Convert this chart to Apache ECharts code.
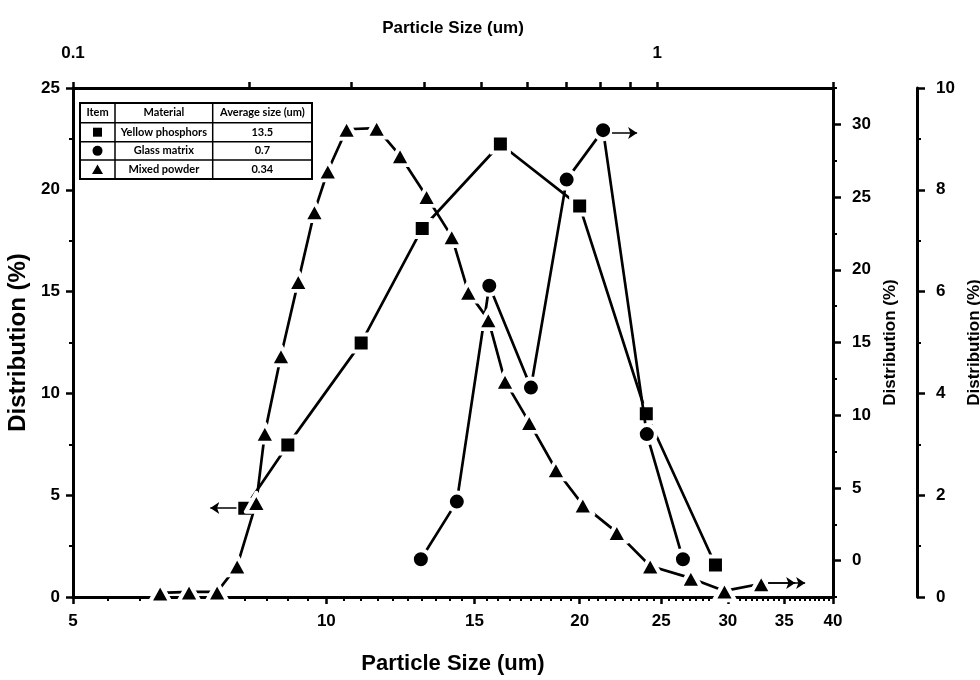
<!DOCTYPE html>
<html><head><meta charset="utf-8">
<script src="https://cdn.jsdelivr.net/npm/echarts@6/dist/echarts.min.js"></script>
<style>html,body{margin:0;padding:0;background:#fff}#c{width:980px;height:680px}</style>
</head><body><div id="c"></div>
<script>
// ---- Data ----
// Yellow phosphors: bottom log axis (um), left axis (%)
const phosphorSize = [8.0, 9.0, 11.0, 13.0, 16.1, 20.0, 24.0, 29.0];
const phosphorDist = [4.36, 7.47, 12.48, 18.1, 22.25, 19.2, 9.0, 1.57];
// Glass matrix: top log axis (um), right axis 1 (%)
const glassSize = [0.394, 0.454, 0.516, 0.608, 0.700, 0.808, 0.960, 1.107];
const glassDist = [0.1, 4.06, 18.9, 11.9, 26.2, 29.6, 8.7, 0.1];
// Mixed powder: top log axis (um), right axis 2 (%)
const mixedSize = [0.141, 0.158, 0.1765, 0.191, 0.206, 0.213, 0.227, 0.243, 0.259, 0.273, 0.294, 0.331, 0.363, 0.403, 0.445, 0.475, 0.514, 0.549, 0.604, 0.671, 0.746, 0.853, 0.973, 1.142, 1.304, 1.507];
const mixedDist = [0.08, 0.10, 0.10, 0.61, 1.86, 3.22, 4.74, 6.20, 7.57, 8.37, 9.19, 9.21, 8.67, 7.87, 7.08, 5.99, 5.45, 4.24, 3.43, 2.50, 1.81, 1.27, 0.61, 0.37, 0.12, 0.26];

// Tick labels
const bottomTicks = [5, 10, 15, 20, 25, 30, 35, 40];
const topTicks = [0.1, 0.2, 0.3, 0.4, 0.5, 0.6, 0.7, 0.8, 0.9, 1, 2];
const topLabels = [0.1, 1];
const right1Ticks = [0, 5, 10, 15, 20, 25, 30];
const right1Minor = [-2.5, 2.5, 7.5, 12.5, 17.5, 22.5, 27.5, 32.5];
const bottomMinor = [];
for (let v = 5.5; v < 40; v += 0.5) { if (v % 5 !== 0) bottomMinor.push(v); }

// Legend table
const tableHeader = ['Item', 'Material', 'Average size (um)'];
const materialNames = ['Yellow phosphors', 'Glass matrix', 'Mixed powder'];
const averageSizes = ['13.5', '0.7', '0.34'];

// ---- Chart ----
const NARROW = "'Liberation Sans Narrow','Arial Narrow','Liberation Sans',sans-serif";
const SANS = "'Liberation Sans',Arial,sans-serif";
const BLACK = '#000';
const lbl = (extra) => Object.assign({color: BLACK, fontSize: 17, fontWeight: 'bold', fontFamily: NARROW}, extra);
const line3 = {show: true, onZero: false, lineStyle: {color: BLACK, width: 3}};
const zip = (a, b) => a.map((v, i) => [v, b[i]]);

const chart = echarts.init(document.getElementById('c'), null, {renderer: 'canvas'});

function arrowLine(from, to) {
  return [{coord: from}, {coord: to}];
}
const markLineBase = {
  silent: true, animation: false, symbol: ['none', 'arrow'], symbolSize: 9,
  label: {show: false}, emphasis: {disabled: true},
  lineStyle: {color: BLACK, width: 1.5, type: 'solid'}
};

// Table graphic
const tx = [80, 115, 212.7, 312];
const ty = [103, 122.7, 141.7, 160, 179];
const tableEls = [];
tableEls.push({type: 'rect', shape: {x: tx[0], y: ty[0], width: tx[3] - tx[0], height: ty[4] - ty[0]}, style: {fill: '#fff', stroke: BLACK, lineWidth: 2}});
for (let i = 1; i < 4; i++) tableEls.push({type: 'line', shape: {x1: tx[0], y1: ty[i], x2: tx[3], y2: ty[i]}, style: {stroke: BLACK, lineWidth: 1.5}});
for (let i = 1; i < 3; i++) tableEls.push({type: 'line', shape: {x1: tx[i], y1: ty[0], x2: tx[i], y2: ty[4]}, style: {stroke: BLACK, lineWidth: 1.5}});
const tfont = {fontSize: 11, fontWeight: 'bold', fontFamily: "Lato,'Open Sans',sans-serif", fill: BLACK, align: 'center', verticalAlign: 'middle'};
const cx = [(tx[0] + tx[1]) / 2, (tx[1] + tx[2]) / 2, (tx[2] + tx[3]) / 2];
const cy = [(ty[0] + ty[1]) / 2, (ty[1] + ty[2]) / 2, (ty[2] + ty[3]) / 2, (ty[3] + ty[4]) / 2];
tableHeader.forEach((t, i) => tableEls.push({type: 'text', style: Object.assign({text: t, x: cx[i], y: cy[0]}, tfont)}));
materialNames.forEach((t, i) => tableEls.push({type: 'text', style: Object.assign({text: t, x: cx[1], y: cy[i + 1]}, tfont)}));
averageSizes.forEach((t, i) => tableEls.push({type: 'text', style: Object.assign({text: t, x: cx[2], y: cy[i + 1]}, tfont)}));
tableEls.push({type: 'rect', shape: {x: cx[0] - 4.5, y: cy[1] - 4.5, width: 9, height: 9}, style: {fill: BLACK}});
tableEls.push({type: 'circle', shape: {cx: cx[0], cy: cy[2], r: 5}, style: {fill: BLACK}});
tableEls.push({type: 'polygon', shape: {points: [[cx[0], cy[3] - 5], [cx[0] + 5.5, cy[3] + 4.5], [cx[0] - 5.5, cy[3] + 4.5]]}, style: {fill: BLACK}});
tableEls.forEach(el => { el.z = 100; });

const option = {
  animation: false,
  backgroundColor: '#fff',
  grid: {left: 73, right: 147, top: 88, bottom: 83, containLabel: false, outerBoundsMode: 'none'},
  xAxis: [
    { // bottom
      type: 'log', logBase: 10, min: 5, max: 40, position: 'bottom',
      axisLine: line3,
      axisTick: {show: true, customValues: bottomTicks, length: 7, lineStyle: {color: BLACK, width: 2.5}},
      axisLabel: lbl({customValues: bottomTicks, formatter: v => String(v), margin: 16}),
      splitLine: {show: false},
      name: 'Particle Size (um)', nameLocation: 'middle', nameGap: 56,
      nameTextStyle: {color: BLACK, fontSize: 22, fontWeight: 'bold', fontFamily: SANS}
    },
    { // top
      type: 'log', logBase: 10, min: 0.1, max: 2, position: 'top',
      axisLine: line3,
      axisTick: {show: true, customValues: topTicks, length: 6, lineStyle: {color: BLACK, width: 2.5}},
      axisLabel: lbl({customValues: topLabels, formatter: v => String(v), margin: 26}),
      splitLine: {show: false},
      name: 'Particle Size (um)', nameLocation: 'middle', nameGap: 51,
      nameTextStyle: {color: BLACK, fontSize: 17, fontWeight: 'bold', fontFamily: NARROW}
    },
    { // bottom minor ticks
      type: 'log', logBase: 10, min: 5, max: 40, position: 'bottom',
      axisLine: {show: false},
      axisTick: {show: true, customValues: bottomMinor, length: 4, lineStyle: {color: BLACK, width: 2}},
      axisLabel: {show: false}, splitLine: {show: false}
    }
  ],
  yAxis: [
    { // left
      type: 'value', min: 0, max: 25, interval: 5, position: 'left',
      axisLine: line3,
      axisTick: {show: true, length: 7, lineStyle: {color: BLACK, width: 2.5}},
      minorTick: {show: true, splitNumber: 2, length: 4, lineStyle: {color: BLACK, width: 2}},
      axisLabel: lbl({margin: 13}),
      splitLine: {show: false}, minorSplitLine: {show: false},
      name: 'Distribution (%)', nameLocation: 'middle', nameGap: 34,
      nameTextStyle: {color: BLACK, fontSize: 24, fontWeight: 'bold', fontFamily: SANS}
    },
    { // right 1
      type: 'value', min: -2.5, max: 32.5, position: 'right', offset: 0,
      axisLine: line3,
      axisTick: {show: true, customValues: right1Ticks, length: 8, lineStyle: {color: BLACK, width: 2.5}},
      axisLabel: lbl({customValues: right1Ticks, margin: 19}),
      splitLine: {show: false},
      name: 'Distribution (%)', nameLocation: 'middle', nameGap: 45,
      nameTextStyle: {color: BLACK, fontSize: 17, fontWeight: 'bold', fontFamily: SANS}
    },
    { // right 2
      type: 'value', min: 0, max: 10, interval: 2, position: 'right', offset: 84,
      axisLine: line3,
      axisTick: {show: true, length: 8, lineStyle: {color: BLACK, width: 2.5}},
      minorTick: {show: true, splitNumber: 2, length: 4, lineStyle: {color: BLACK, width: 2}},
      axisLabel: lbl({margin: 19}),
      splitLine: {show: false}, minorSplitLine: {show: false},
      name: 'Distribution (%)', nameLocation: 'middle', nameGap: 41,
      nameTextStyle: {color: BLACK, fontSize: 17, fontWeight: 'bold', fontFamily: SANS}
    },
    { // right 1 minor ticks
      type: 'value', min: -2.5, max: 32.5, position: 'right', offset: 0,
      axisLine: {show: false},
      axisTick: {show: true, customValues: right1Minor, length: 4, lineStyle: {color: BLACK, width: 2}},
      axisLabel: {show: false}, splitLine: {show: false}
    }
  ],
  series: [
    {
      name: 'Yellow phosphors', type: 'line', xAxisIndex: 0, yAxisIndex: 0,
      data: zip(phosphorSize, phosphorDist),
      symbol: 'rect', symbolSize: 17, showAllSymbol: true,
      lineStyle: {color: BLACK, width: 2.7},
      itemStyle: {color: BLACK, borderColor: '#fff', borderWidth: 4},
      emphasis: {disabled: true}, z: 2,
      markLine: Object.assign({data: [arrowLine([7.82, 4.37], [7.28, 4.37])]}, markLineBase)
    },
    {
      name: 'Glass matrix', type: 'line', xAxisIndex: 1, yAxisIndex: 1,
      data: zip(glassSize, glassDist),
      symbol: 'circle', symbolSize: 18, showAllSymbol: true,
      lineStyle: {color: BLACK, width: 2.7},
      itemStyle: {color: BLACK, borderColor: '#fff', borderWidth: 4},
      emphasis: {disabled: true}, z: 3,
      markLine: Object.assign({data: [arrowLine([0.837, 29.4], [0.924, 29.4])]}, markLineBase)
    },
    {
      name: 'Mixed powder', type: 'line', xAxisIndex: 1, yAxisIndex: 2,
      data: zip(mixedSize, mixedDist),
      symbol: 'triangle', symbolSize: [21, 19], showAllSymbol: true,
      lineStyle: {color: BLACK, width: 2.7},
      itemStyle: {color: BLACK, borderColor: '#fff', borderWidth: 4, borderJoin: 'round'},
      emphasis: {disabled: true}, z: 4,
      markLine: Object.assign({data: [arrowLine([1.549, 0.276], [1.792, 0.276]), arrowLine([1.549, 0.276], [1.723, 0.276])]}, markLineBase)
    }
  ],
  graphic: tableEls
};
chart.setOption(option);
</script>
</body></html>
